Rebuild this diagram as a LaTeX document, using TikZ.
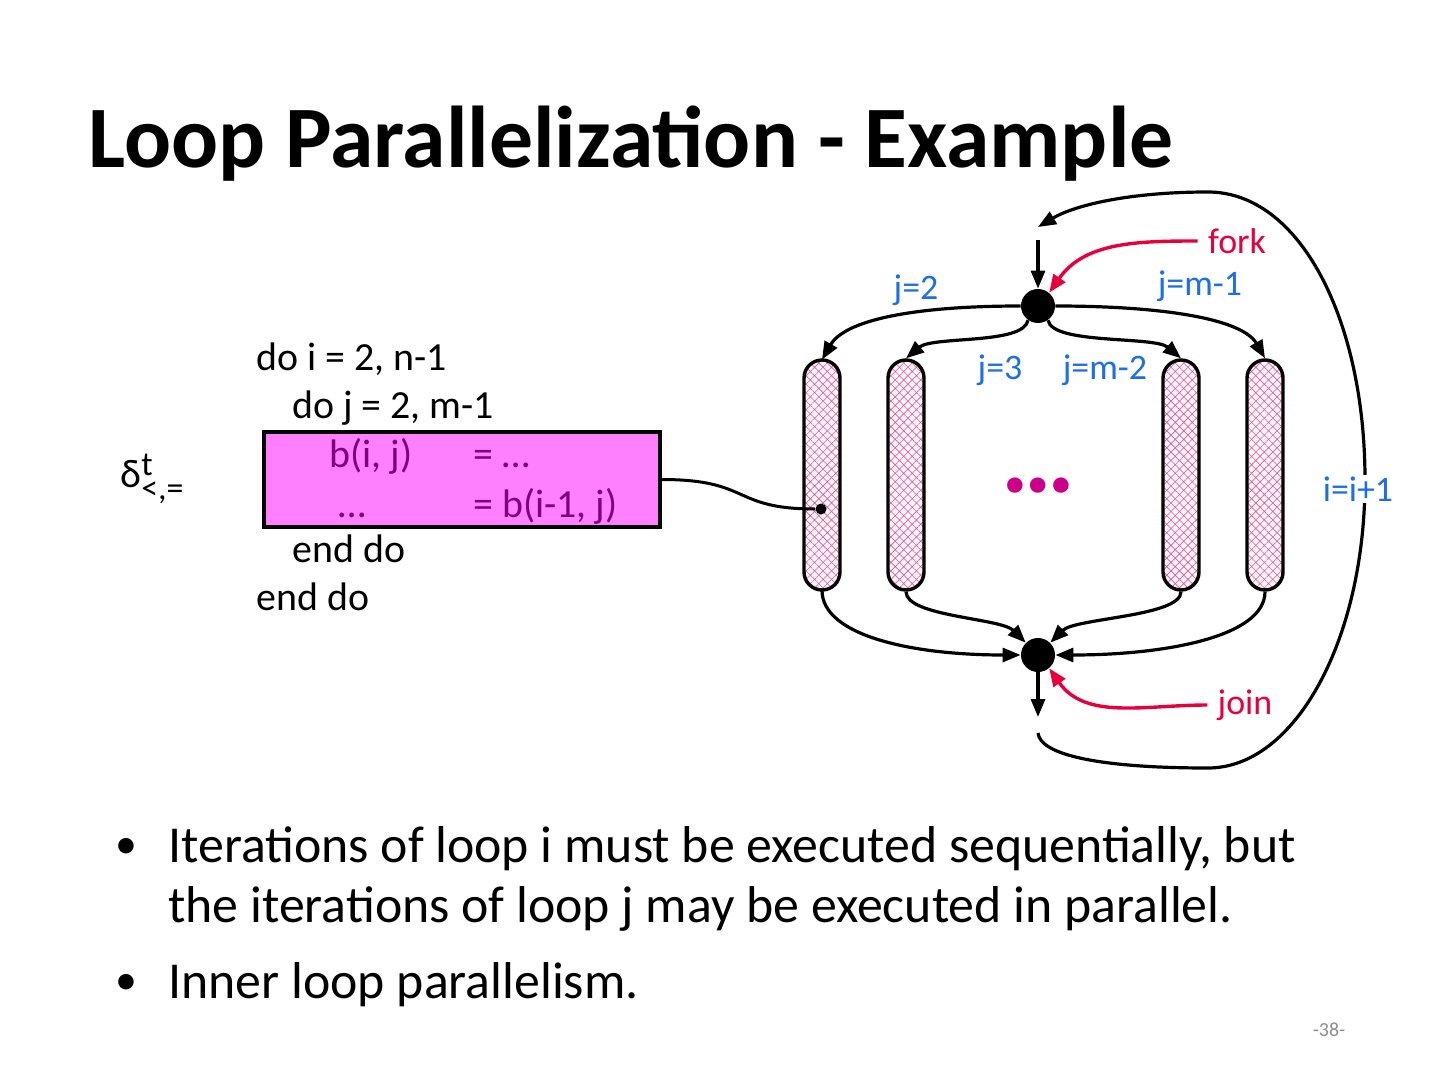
\documentclass[tikz,border=0pt]{standalone}
\usepackage{fontspec}
\setmainfont{Carlito}
\usetikzlibrary{positioning,arrows.meta,patterns.meta}
\definecolor{lpblue}{HTML}{1E6EE6}
\definecolor{lpred}{HTML}{E8003D}
\definecolor{lpbox}{HTML}{FF80FF}
\definecolor{lppurple}{HTML}{800080}
\definecolor{lpdots}{HTML}{CC0088}
\definecolor{lphatch}{HTML}{D0609A}
\definecolor{lpfill}{HTML}{FDF2F7}
\definecolor{lpgray}{HTML}{8C8C8C}

\begin{document}
\begin{tikzpicture}[x=0.5bp,y=0.5bp,>={Triangle[length=9bp,width=7bp]},
  code/.style={anchor=base west,inner sep=0pt,font=\fontsize{20}{24}\selectfont},
  inbox/.style={code,text=lppurple},
  lbl/.style={text=lpblue,font=\fontsize{18}{22}\selectfont,inner sep=1bp},
  note/.style={text=lpred,font=\fontsize{18}{22}\selectfont,inner sep=5bp},
  iter/.style={draw,line width=1.7bp,rounded corners=9bp,minimum width=18bp,minimum height=115bp,
    preaction={fill=lpfill},pattern={Hatch[angle=45,distance=3bp,line width=0.3bp]},pattern color=lphatch},
  knot/.style={circle,fill=black,inner sep=0pt,minimum size=17bp},
  flow/.style={->,line width=1.6bp},
  ptr/.style={->,line width=1.7bp,lpred},
  bul/.style={anchor=base west,inner sep=0pt,font=\fontsize{26}{31}\selectfont}]
\fill[white] (0,0) rectangle (1440,1080);
\useasboundingbox (0,0) rectangle (1440,1080);
\node[anchor=base west,inner sep=0pt,font=\fontsize{44}{53}\selectfont\bfseries] (ttl) at (88,912) {Loop Parallelization - Example};
% loop nest
\node[draw,line width=1.6bp,fill=lpbox,minimum width=198bp,minimum height=47.5bp,inner sep=0pt] (body) at (462,600.5) {};
\node[code] (l1) at (256,710) {do i = 2, n-1};
\node[code] (l2) at (292,662) {do j = 2, m-1};
\node[inbox] (s1) at (329,613) {b(i, j)};
\node[inbox] (e1) at (473,613) {= …};
\node[inbox] (s2) at (338,563) {…};
\node[inbox] (e2) at (473,563) {= b(i-1, j)};
\node[code] (l5) at (292,518) {end do};
\node[code] (l6) at (256,470) {end do};
\node[code] (dep) at (120,593) {δ\rlap{\raisebox{6bp}{\fontsize{17}{17}\selectfont t}}\raisebox{-6bp}{\fontsize{17}{17}\selectfont <,=}};
% iterations of j
\node[iter] (c1) at (822,605) {};
\node[iter] (c2) at (906,605) {};
\node[iter] (c3) at (1181,605) {};
\node[iter] (c4) at (1265,605) {};
\node[text=lpdots,font=\fontsize{52}{52}\selectfont\bfseries] (more) at (1038,594) {…};
\node[circle,fill=black,inner sep=0pt,minimum size=5.5bp] (hit) at (821,571) {};
\draw[line width=1.5bp] (body.east) .. controls +(90,0) and +(-90,0) .. (hit);
% fork and join
\node[knot] (fk) at (1038,774) {};
\node[knot] (jn) at (1038,425) {};
\coordinate (fin) at (1038,840);
\coordinate (ltop) at (1038,853);
\coordinate (jout) at (1038,363);
\coordinate (lbot) at (1038,347);
\draw[flow] (fin) -- (fk);
\draw[flow] (fk.west) .. controls +(180:110) and +(60:45) .. (c1.north);
\draw[flow] (fk.-125) .. controls +(-100:25) and +(40:35) .. (c2.north);
\draw[flow] (fk.-55) .. controls +(-80:25) and +(140:35) .. (c3.north);
\draw[flow] (fk.east) .. controls +(0:110) and +(120:45) .. (c4.north);
\draw[flow] (c1.south) .. controls +(-90:45) and +(180:110) .. (jn.west);
\draw[flow] (c2.south) .. controls +(-90:25) and +(135:35) .. (jn.135);
\draw[flow] (c3.south) .. controls +(-90:25) and +(45:35) .. (jn.45);
\draw[flow] (c4.south) .. controls +(-90:45) and +(0:110) .. (jn.east);
\draw[flow] (jn) -- (jout);
% i loop back
\draw[flow] (lbot) .. controls (1040,325) and (1100,312) .. (1208,312)
  .. controls (1295,312) and (1365,440) .. (1365,600)
  .. controls (1365,760) and (1300,888) .. (1208,888)
  .. controls (1130,888) and (1075,875) .. (ltop);
\node[lbl] (j2) at (916,790) {j=2};
\node[lbl] (jm1) at (1200,794) {j=m-1};
\node[lbl] (j3) at (1000,710) {j=3};
\node[lbl] (jm2) at (1105,710) {j=m-2};
\node[lbl,fill=white] (ii) at (1358,591) {i=i+1};
\node[note] (fkl) at (1237,839) {fork};
\node[note] (jnl) at (1245,375) {join};
\draw[ptr] (fkl.west) to[out=180,in=55] (fk.50);
\draw[ptr] (jnl.west) to[out=180,in=-55] (jn.-50);
% bullets
\node[font=\fontsize{22}{26}\selectfont,inner sep=0pt] (d1) at (126,232) {•};
\node[bul] (t1) at (168,218) {Iterations of loop i must be executed sequentially, but};
\node[bul] (t2) at (168,158) {the iterations of loop j may be executed in parallel.};
\node[font=\fontsize{22}{26}\selectfont,inner sep=0pt] (d2) at (126,96) {•};
\node[bul] (t3) at (168,82) {Inner loop parallelism.};
\node[text=lpgray,font=\fontsize{10}{12}\selectfont] (pg) at (1329,50) {-38-};
\end{tikzpicture}
\end{document}
